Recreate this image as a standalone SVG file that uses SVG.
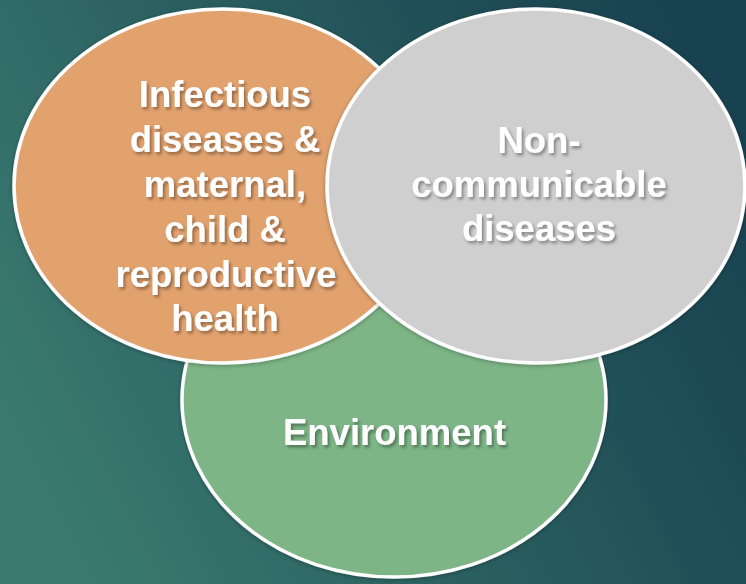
<svg xmlns="http://www.w3.org/2000/svg" width="746" height="584" viewBox="0 0 746 584">
<defs>
<linearGradient id="bg" x1="0" y1="0.7" x2="1" y2="0.3">
<stop offset="0" stop-color="#3a7a70"/>
<stop offset="0.5" stop-color="#285c5e"/>
<stop offset="1" stop-color="#184250"/>
</linearGradient>
<filter id="ts" x="-10%" y="-20%" width="120%" height="150%">
<feDropShadow dx="2" dy="2.5" stdDeviation="1.5" flood-color="#000" flood-opacity="0.35"/>
</filter>
<filter id="es" x="-10%" y="-10%" width="120%" height="120%">
<feDropShadow dx="0" dy="1" stdDeviation="2" flood-color="#000" flood-opacity="0.3"/>
</filter>
</defs>
<style>
.c{stroke:#ffffff;stroke-width:3.5;filter:url(#es)}
.t{font-family:"Liberation Sans",Arial,sans-serif;font-weight:bold;font-size:36.5px;fill:#ffffff;text-anchor:middle;filter:url(#ts)}
</style>
<rect x="0" y="0" width="746" height="584" fill="url(#bg)"/>
<g id="environment">
<ellipse class="c" cx="394" cy="400" rx="212" ry="177" fill="#7db586"/>
<text class="t" x="394.5" y="445">Environment</text>
</g>
<g id="infectious">
<ellipse class="c" cx="223" cy="186" rx="209" ry="177" fill="#e2a26e"/>
<text class="t" x="225" y="107">Infectious</text>
<text class="t" x="225" y="152">diseases &amp;</text>
<text class="t" x="225" y="197">maternal,</text>
<text class="t" x="225" y="242">child &amp;</text>
<text class="t" x="226" y="287">reproductive</text>
<text class="t" x="225" y="331">health</text>
</g>
<g id="ncd">
<ellipse class="c" cx="536" cy="186" rx="209" ry="177" fill="#cfcfcf"/>
<text class="t" x="539" y="153">Non-</text>
<text class="t" x="539" y="197">communicable</text>
<text class="t" x="539" y="241">diseases</text>
</g>
<g id="connectors"></g>
</svg>
